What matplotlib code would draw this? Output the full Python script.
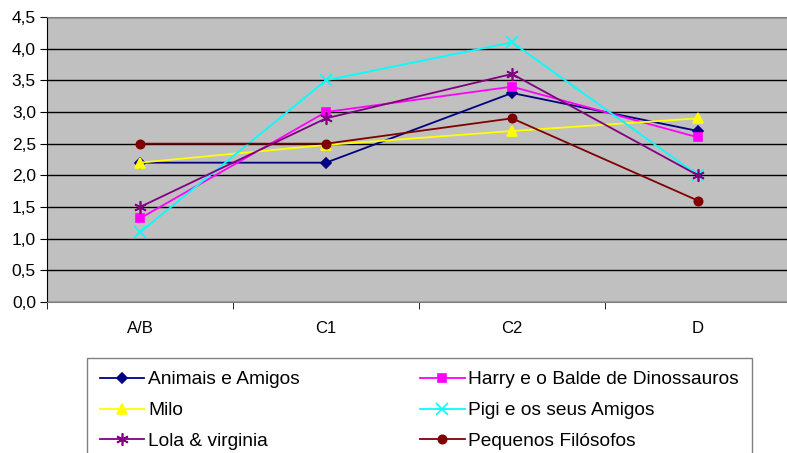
import matplotlib.pyplot as plt
import numpy as np

plt.rcParams['font.family'] = ['Liberation Sans', 'DejaVu Sans']

categories = ['A/B', 'C1', 'C2', 'D']
animais = [2.2, 2.2, 3.3, 2.7]
harry = [1.32, 3.0, 3.4, 2.6]
milo = [2.2, 2.48, 2.7, 2.9]
pigi = [1.1, 3.5, 4.1, 2.0]
lola = [1.5, 2.9, 3.6, 2.0]
pequenos = [2.5, 2.5, 2.9, 1.6]

series = [
    ('Animais e Amigos', animais, '#000080', 'D', 5.5),
    ('Harry e o Balde de Dinossauros', harry, '#FF00FF', 's', 6),
    ('Milo', milo, '#FFFF00', '^', 7.5),
    ('Pigi e os seus Amigos', pigi, '#00FFFF', 'x', 8),
    ('Lola & virginia', lola, '#800080', (6, 2, 0), 9),
    ('Pequenos Filósofos', pequenos, '#800000', 'o', 6),
]

fig = plt.figure(figsize=(7.87, 4.53), dpi=100)
ax = fig.add_axes([47 / 787, 1 - 302 / 453, 744 / 787, 285 / 453])
ax.set_facecolor('#C0C0C0')

x = np.arange(len(categories))
lines = []
for name, vals, col, mk, ms in series:
    ln, = ax.plot(x, vals, color=col, marker=mk, markersize=ms, linewidth=1.3,
                  markeredgewidth=1.2, label=name)
    lines.append(ln)

ax.set_xlim(-0.5, 3.5)
ax.set_ylim(0, 4.5)
ax.set_yticks(np.arange(0, 4.51, 0.5))
ax.set_yticklabels([f'{v:.1f}'.replace('.', ',') for v in np.arange(0, 4.51, 0.5)])
ax.set_xticks(x)
ax.set_xticklabels(categories)
ax.set_xticks(np.arange(-0.5, 3.6, 1), minor=True)
ax.tick_params(axis='x', which='major', length=0, pad=14, labelsize=12)
ax.tick_params(axis='x', which='minor', length=5, direction='out')
ax.tick_params(axis='y', length=5, direction='out', labelsize=12.5, pad=3)
ax.yaxis.grid(True, color='black', linewidth=1)
ax.set_axisbelow(True)
for s in ['top', 'right', 'bottom']:
    ax.spines[s].set_color('#808080')
ax.spines['left'].set_color('black')

# row-wise order for a 2-column legend
order = [0, 2, 4, 1, 3, 5]
top = 1 - 358 / 453
fig.legend([lines[i] for i in order], [series[i][0] for i in order],
           loc='upper left', ncol=2,
           bbox_to_anchor=(87 / 787, top),
           fontsize=13.8, frameon=True, fancybox=False, edgecolor='#808080',
           facecolor='white', framealpha=1,
           handlelength=2.3, handletextpad=0.2, labelspacing=0.7,
           borderaxespad=0, borderpad=0.68, columnspacing=6.3)

fig.savefig('out.png', dpi=100)
